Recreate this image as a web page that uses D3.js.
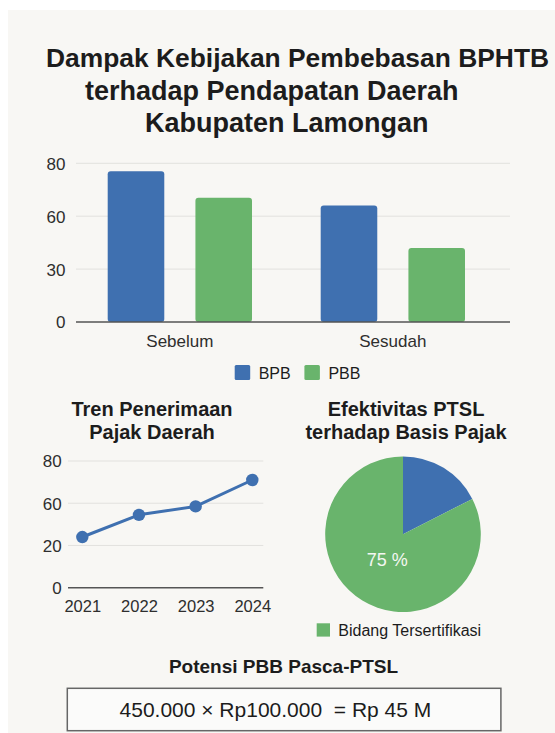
<!DOCTYPE html>
<html>
<head>
<meta charset="utf-8">
<script src="https://cdn.jsdelivr.net/npm/d3@7/dist/d3.min.js"></script>
<style>
  html, body { margin: 0; padding: 0; background: #ffffff; }
  svg { display: block; }
  text { font-family: "Liberation Sans", Arial, Helvetica, sans-serif; }
</style>
</head>
<body>
<div id="chart"></div>
<script>
// ---------- DATA ----------
const titleLines = ["Dampak Kebijakan Pembebasan BPHTB", "terhadap Pendapatan Daerah", "Kabupaten Lamongan"];
const barCategories = ["Sebelum", "Sesudah"];
const barSeries = ["BPB", "PBB"];
const bpbValues = [77, 64];
const pbbValues = [67, 42];
const barTicks = [0, 30, 60, 80];

const trendTitle = ["Tren Penerimaan", "Pajak Daerah"];
const years = ["2021", "2022", "2023", "2024"];
const trendValues = [28, 49, 57, 71];
const trendTicks = [0, 20, 60, 80];

const pieTitle = ["Efektivitas PTSL", "terhadap Basis Pajak"];
const pieCategories = ["Belum", "Bidang Tersertifikasi"];
const pieValues = [17.5, 82.5];
const pieCenterLabel = "75 %";
const pieLegend = ["Bidang Tersertifikasi"];

const potensiTitle = "Potensi PBB Pasca-PTSL";
const potensiFormula = "450.000 × Rp100.000  = Rp 45 M";

// ---------- STYLE ----------
const W = 555, H = 733;
const BLUE = "#3f70b0", GREEN = "#69b46c";
const GRID = "#e2e1de", AXIS = "#555555", TXT = "#1c1c1c", TICK = "#2e2e2e";

const svg = d3.select("#chart").append("svg").attr("width", W).attr("height", H);
svg.append("rect").attr("x", 8).attr("y", 10).attr("width", W - 8).attr("height", H - 10).attr("fill", "#f8f7f4");

// ---------- TITLE ----------
const titleX = [46, 85, 145];
const titleY = [67, 100, 132];
const titleSize = [26.4, 27, 27];
svg.selectAll("text.title").data(titleLines).enter().append("text")
  .attr("class", "title")
  .attr("x", (d, i) => titleX[i]).attr("y", (d, i) => titleY[i])
  .attr("font-size", (d, i) => titleSize[i]).attr("font-weight", "bold").attr("fill", TXT)
  .text(d => d);

// ---------- BAR CHART ----------
const bTop = 163.3, bBottom = 322, bLeft = 76, bRight = 510;
const yBar = d3.scaleLinear()
  .domain(barTicks)
  .range(barTicks.map((d, i) => bBottom - i * (bBottom - bTop) / (barTicks.length - 1)));
const x0 = d3.scaleBand().domain(barCategories).range([107.7, 465]).paddingInner(0.3225).paddingOuter(0);
const x1 = d3.scaleBand().domain(barSeries).range([0, x0.bandwidth()]).paddingInner(0.355).paddingOuter(0);
const barColor = d3.scaleOrdinal().domain(barSeries).range([BLUE, GREEN]);

const gBar = svg.append("g");
gBar.selectAll("line.grid").data(barTicks.filter(d => d !== 0)).enter().append("line")
  .attr("x1", bLeft).attr("x2", bRight)
  .attr("y1", d => yBar(d)).attr("y2", d => yBar(d))
  .attr("stroke", GRID).attr("stroke-width", 1);
const yAxisBar = d3.axisLeft(yBar).tickValues(barTicks).tickSize(0).tickPadding(0).tickFormat(d3.format("d"));
const gyb = gBar.append("g").attr("transform", `translate(65.5,0)`).call(yAxisBar);
gyb.select(".domain").remove();
gyb.selectAll("text").attr("font-size", 17).attr("fill", TICK).attr("dy", "0.35em")
  .attr("font-family", "Liberation Sans, Arial, sans-serif");

const barData = barCategories.map((c, i) => ({ cat: c, values: [
  { key: "BPB", value: bpbValues[i] }, { key: "PBB", value: pbbValues[i] } ] }));
const groups = gBar.selectAll("g.grp").data(barData).enter().append("g")
  .attr("transform", d => `translate(${x0(d.cat)},0)`);
groups.selectAll("rect").data(d => d.values).enter().append("rect")
  .attr("x", d => x1(d.key)).attr("width", x1.bandwidth())
  .attr("y", d => yBar(d.value)).attr("height", d => yBar(0) - yBar(d.value))
  .attr("rx", 3).attr("fill", d => barColor(d.key));
gBar.append("line").attr("x1", bLeft).attr("x2", bRight)
  .attr("y1", yBar(0)).attr("y2", yBar(0)).attr("stroke", AXIS).attr("stroke-width", 1.6);
const xAxisBar = d3.axisBottom(x0).tickSize(0).tickPadding(0);
const gxb = gBar.append("g").attr("transform", `translate(0,${yBar(0)})`).call(xAxisBar);
gxb.select(".domain").remove();
gxb.selectAll("text").attr("font-size", 17).attr("fill", TICK).attr("y", 25).attr("dy", 0)
  .attr("font-family", "Liberation Sans, Arial, sans-serif");

const legX = [234.7, 304.4];
const leg = gBar.selectAll("g.leg").data(barSeries).enter().append("g")
  .attr("transform", (d, i) => `translate(${legX[i]},365)`);
leg.append("rect").attr("width", 15.5).attr("height", 15).attr("rx", 1.5).attr("fill", d => barColor(d));
leg.append("text").attr("x", 24).attr("y", 13.5).attr("font-size", 16).attr("fill", TXT).text(d => d);

// ---------- LINE CHART ----------
svg.selectAll("text.ttl").data(trendTitle).enter().append("text")
  .attr("x", 152).attr("y", (d, i) => 416 + i * 23)
  .attr("text-anchor", "middle").attr("font-size", 20).attr("font-weight", "bold").attr("fill", TXT)
  .text(d => d);

const lTop = 461, lBottom = 587.7, lLeft = 68, lRight = 263.3;
const yLine = d3.scaleLinear()
  .domain(trendTicks)
  .range(trendTicks.map((d, i) => lBottom - i * (lBottom - lTop) / (trendTicks.length - 1)));
const xLine = d3.scalePoint().domain(years).range([82.3, 252.3]);
const gLine = svg.append("g");
gLine.selectAll("line.grid").data(trendTicks.filter(d => d !== 0)).enter().append("line")
  .attr("x1", lLeft).attr("x2", lRight)
  .attr("y1", d => yLine(d)).attr("y2", d => yLine(d))
  .attr("stroke", GRID).attr("stroke-width", 1);
gLine.append("line").attr("x1", lLeft).attr("x2", lRight)
  .attr("y1", yLine(0)).attr("y2", yLine(0)).attr("stroke", AXIS).attr("stroke-width", 1.6);
const gyl = gLine.append("g").attr("transform", `translate(61.7,0)`)
  .call(d3.axisLeft(yLine).tickValues(trendTicks).tickSize(0).tickPadding(0).tickFormat(d3.format("d")));
gyl.select(".domain").remove();
gyl.selectAll("text").attr("font-size", 17).attr("fill", TICK).attr("dy", "0.35em")
  .attr("font-family", "Liberation Sans, Arial, sans-serif");
const gxl = gLine.append("g").attr("transform", `translate(0,${yLine(0)})`)
  .call(d3.axisBottom(xLine).tickSize(0).tickPadding(0));
gxl.select(".domain").remove();
gxl.selectAll("text").attr("font-size", 16.5).attr("fill", TICK).attr("y", 24).attr("dy", 0)
  .attr("font-family", "Liberation Sans, Arial, sans-serif");

const trendData = years.map((y, i) => ({ year: y, value: trendValues[i] }));
gLine.append("path").datum(trendData)
  .attr("d", d3.line().x(d => xLine(d.year)).y(d => yLine(d.value)))
  .attr("fill", "none").attr("stroke", BLUE).attr("stroke-width", 3).attr("stroke-linejoin", "round");
gLine.selectAll("circle").data(trendData).enter().append("circle")
  .attr("cx", d => xLine(d.year)).attr("cy", d => yLine(d.value)).attr("r", 6.2).attr("fill", BLUE);

// ---------- PIE ----------
svg.selectAll("text.pt").data(pieTitle).enter().append("text")
  .attr("x", 406).attr("y", (d, i) => 415.5 + i * 23)
  .attr("text-anchor", "middle").attr("font-size", 20).attr("font-weight", "bold").attr("fill", TXT)
  .text(d => d);

const pieR = 77.8;
const gPie = svg.append("g").attr("transform", "translate(403,534.2)");
const pie = d3.pie().sort(null).value(d => d.value);
const pieData = pie(pieCategories.map((c, i) => ({ cat: c, value: pieValues[i] })));
const pieColor = d3.scaleOrdinal().domain(pieCategories).range([BLUE, GREEN]);
gPie.selectAll("path").data(pieData).enter().append("path")
  .attr("d", d3.arc().innerRadius(0).outerRadius(pieR))
  .attr("fill", d => pieColor(d.data.cat));
const labelArc = d3.arc().innerRadius(30).outerRadius(30);
gPie.append("text")
  .attr("transform", `translate(${labelArc.centroid(pieData[1])})`)
  .attr("text-anchor", "middle").attr("dy", "0.35em")
  .attr("font-size", 18).attr("fill", "#f4f7f2").text(pieCenterLabel);

const pl = svg.append("g").attr("transform", "translate(316.7,623.3)");
pl.append("rect").attr("width", 13.3).attr("height", 13.3).attr("fill", GREEN);
pl.append("text").attr("x", 21.6).attr("y", 12.5).attr("font-size", 16).attr("fill", TXT).text(pieLegend[0]);

// ---------- POTENSI ----------
svg.append("text").attr("x", 283.5).attr("y", 673.3).attr("text-anchor", "middle")
  .attr("font-size", 19).attr("font-weight", "bold").attr("fill", TXT).text(potensiTitle);
svg.append("rect").attr("x", 67.3).attr("y", 688.3).attr("width", 433.6).attr("height", 42.4)
  .attr("fill", "#fbfbfa").attr("stroke", "#666").attr("stroke-width", 1.5);
svg.append("text").attr("x", 275.4).attr("y", 717.3).attr("text-anchor", "middle")
  .attr("font-size", 21).attr("fill", TXT).attr("xml:space", "preserve").style("white-space", "pre")
  .text(potensiFormula);
</script>
</body>
</html>
